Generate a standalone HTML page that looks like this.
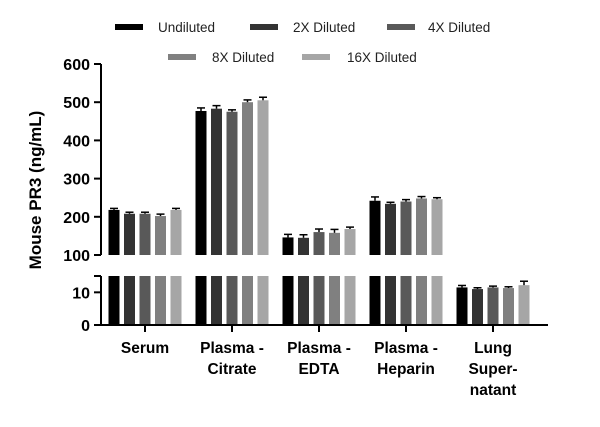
<!DOCTYPE html>
<html><head><meta charset="utf-8"><style>
body{margin:0;background:#fff}
svg{font-family:"Liberation Sans",sans-serif}
</style></head><body>
<svg id="c" width="600" height="422"></svg>
<script>
const categories=[["Serum"],["Plasma -","Citrate"],["Plasma -","EDTA"],["Plasma -","Heparin"],["Lung","Super-","natant"]];
const seriesNames=["Undiluted","2X Diluted","4X Diluted","8X Diluted","16X Diluted"];
const undiluted=[218,477,146,242,11.5];
const x2=[208,483,145,234,11];
const x4=[208,475,160,240,11.5];
const x8=[202,500,158,248,11.3];
const x16=[218,505,168,246,12.2];
const errs=[[4,8,8,10,0.6],[4,8,8,4,0.4],[4,5,8,5,0.4],[5,6,9,5,0.4],[4,8,5,4,1.2]];
const topTicks=[100,200,300,400,500,600];
const botTicks=[0,10];
const series=[undiluted,x2,x4,x8,x16];
const colors=["#000","#333","#595959","#808080","#a6a6a6"];
const NS="http://www.w3.org/2000/svg",svg=document.getElementById("c");
function mk(t,a,txt){const e=document.createElementNS(NS,t);for(const k in a)e.setAttribute(k,a[k]);if(txt!=null)e.textContent=txt;svg.appendChild(e);return e;}
function yTop(v){return 255-(v-100)*191/500;}
function yBot(v){return 325-v*49/15;}
function xc(i){return 145+i*87;}
const pitch=15.5,bw=11;
series.forEach((s,si)=>{s.forEach((v,ci)=>{
 const x=xc(ci)+(si-2)*pitch-bw/2;
 const yb=yBot(Math.min(v,15));
 const b=mk("rect",{x:x,y:yb,width:bw,height:325-yb,fill:colors[si]});
 
 
 let ye;
 if(v>100){const yt=yTop(v);const b2=mk("rect",{x:x,y:yt,width:bw,height:255-yt,fill:colors[si]});
  
  
  ye=yTop(v+errs[si][ci]);}else ye=yBot(v+errs[si][ci]);
 const yv=v>100?yTop(v):yBot(v);
 mk("line",{x1:x+bw/2,x2:x+bw/2,y1:ye,y2:yv,stroke:"#000","stroke-width":1.5});
 mk("line",{x1:x+bw/2-4,x2:x+bw/2+4,y1:ye,y2:ye,stroke:"#000","stroke-width":1.5});
});});
const ax={stroke:"#000","stroke-width":2};
mk("line",Object.assign({x1:101,x2:101,y1:yTop(600),y2:255},ax));
mk("line",Object.assign({x1:101,x2:101,y1:276,y2:326},ax));
mk("line",Object.assign({x1:100,x2:548,y1:325,y2:325},ax));
topTicks.forEach(t=>{const y=yTop(t);mk("line",Object.assign({x1:94,x2:101,y1:y,y2:y},ax));
 const l=mk("text",{x:90,y:y+6,"text-anchor":"end","font-size":16,"font-weight":"bold"},t);
 });
mk("line",Object.assign({x1:94,x2:101,y1:276,y2:276},ax));
botTicks.forEach(t=>{const y=yBot(t);mk("line",Object.assign({x1:94,x2:101,y1:y,y2:y},ax));
 const l=mk("text",{x:90,y:y+6,"text-anchor":"end","font-size":16,"font-weight":"bold"},t);
 });
categories.forEach((c,i)=>{mk("line",Object.assign({x1:xc(i),x2:xc(i),y1:325,y2:332},ax));
 c.forEach((s,j)=>{const l=mk("text",{x:xc(i),y:353+j*21,"text-anchor":"middle","font-size":15.5,"font-weight":"bold"},s);
 });});
const yt=mk("text",{x:0,y:0,transform:"translate(41,190) rotate(-90)","text-anchor":"middle","font-size":17,"font-weight":"bold"},"Mouse PR3 (ng/mL)");

const lp=[[115,27,158],[250,27,293],[387,27,428],[168,57,212],[302,57,347]];
seriesNames.forEach((n,i)=>{const p=lp[i];
 mk("rect",{x:p[0],y:p[1]-3,width:28,height:6,fill:colors[i]});
 const t=mk("text",{x:p[2],y:p[1]+5,"font-size":13.5,fill:"#222"},n);
 });
</script>
</body></html>
